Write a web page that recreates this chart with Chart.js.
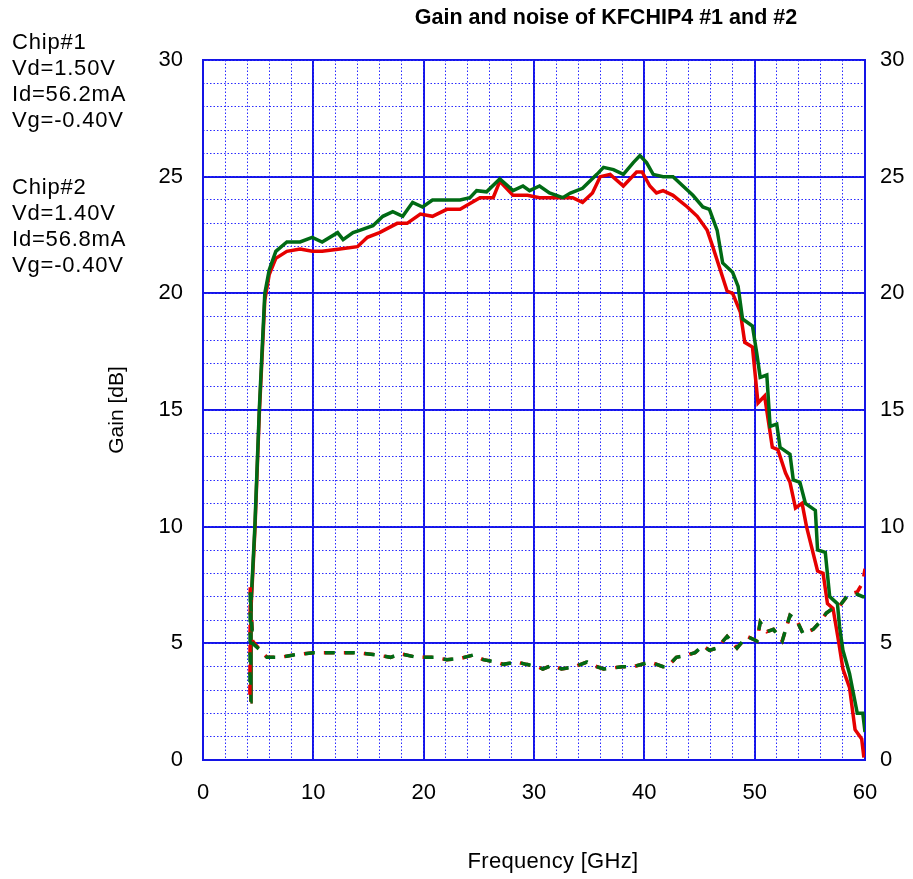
<!DOCTYPE html>
<html>
<head>
<meta charset="utf-8">
<script src="https://cdn.jsdelivr.net/npm/chart.js@4.4.1/dist/chart.umd.min.js"></script>
<style>
  html, body { margin: 0; padding: 0; background: #fff; }
  #wrap { position: relative; width: 913px; height: 879px; }
  canvas { position: absolute; left: 0; top: 0; }
  .txt { position: absolute; font-family: "Liberation Sans", Arial, sans-serif; color: #000; white-space: nowrap; }
  #title { font-weight: bold; font-size: 21.5px; left: 606px; top: 5px; transform: translateX(-50%); }
  #xtitle { font-size: 22px; left: 553px; top: 848px; transform: translateX(-50%); letter-spacing: 0.3px; }
  .note { left: 12px; font-size: 22px; line-height: 26px; letter-spacing: 0.8px; }
</style>
</head>
<body>
<div id="wrap">
  <canvas id="c" width="913" height="879"></canvas>
  <div id="title" class="txt">Gain and noise of KFCHIP4 #1 and #2</div>
  <div id="xtitle" class="txt">Frequency [GHz]</div>
  <div class="txt note" style="top:29px">Chip#1<br>Vd=1.50V<br>Id=56.2mA<br>Vg=-0.40V</div>
  <div class="txt note" style="top:174px">Chip#2<br>Vd=1.40V<br>Id=56.8mA<br>Vg=-0.40V</div>
</div>
<script>
// ---- Data ----
const xTicks = [0, 10, 20, 30, 40, 50, 60];
const yTicks = [0, 5, 10, 15, 20, 25, 30];

// Chip#1 gain (green)
const gain1Freq = [4.3,4.35,4.7,5.1,5.6,6.0,6.3,6.6,7.6,8.8,9.9,10.8,12.2,12.7,13.6,14.2,15.4,16.3,17.2,18.1,19.0,19.9,20.8,22.1,23.3,24.2,24.8,25.7,26.9,28.1,29.0,29.6,30.5,31.4,32.6,33.3,34.4,35.7,36.3,37.2,38.1,39.0,39.6,40.2,40.8,41.7,42.6,43.5,44.4,45.3,45.9,46.6,47.1,48.0,48.5,48.9,49.8,50.2,50.5,51.1,51.4,52.0,52.3,53.2,53.5,54.1,54.6,55.5,55.7,56.4,56.8,57.5,57.7,58.0,58.6,59.3,59.8,60.0];
const gain1 = [2.5,6.7,10,15,20,21,21.4,21.8,22.2,22.2,22.4,22.2,22.6,22.3,22.6,22.7,22.9,23.3,23.5,23.3,23.9,23.7,24.0,24.0,24.0,24.1,24.4,24.35,24.9,24.4,24.6,24.4,24.6,24.3,24.1,24.3,24.5,25.1,25.4,25.3,25.1,25.6,25.9,25.6,25.1,25.0,25.0,24.6,24.2,23.7,23.6,22.7,21.3,20.9,20.3,18.9,18.6,17.4,16.4,16.5,14.3,14.4,13.4,13.1,12.0,11.9,11.0,10.7,9.0,8.9,7.0,6.7,5.7,4.7,3.7,2.0,2.0,1.2];

// Chip#2 gain (red)
const gain2Freq = [4.3,4.35,4.7,5.1,5.6,6.0,6.6,7.6,8.8,9.9,10.8,12.4,14.0,14.9,16.0,17.6,18.5,19.7,20.8,22.1,23.3,25.1,26.3,26.9,28.1,29.4,30.5,32.4,33.5,34.4,35.3,36.0,36.9,38.1,39.3,39.8,40.5,41.1,41.7,42.6,43.9,44.8,45.7,46.2,47.5,48.0,48.7,49.1,49.8,50.3,50.9,51.6,52.1,52.8,53.2,53.7,54.3,54.7,55.7,56.2,56.6,57.1,57.6,58.0,58.6,59.1,59.7,59.9];
const gain2 = [2.5,6.5,9.8,14.8,19.7,20.8,21.5,21.8,21.9,21.8,21.8,21.9,22.0,22.4,22.6,23.0,23.0,23.4,23.3,23.6,23.6,24.1,24.1,24.8,24.2,24.2,24.1,24.1,24.1,23.9,24.3,25.0,25.1,24.6,25.2,25.2,24.6,24.3,24.4,24.2,23.7,23.3,22.7,22.0,20.1,20.0,19.2,17.9,17.7,15.3,15.6,13.4,13.3,12.3,11.9,10.8,11.0,10.0,8.1,8.0,6.7,6.5,5.1,3.9,3.1,1.3,0.9,0.1];

// Noise (dashed) – same frequency grid for both chips
const noiseFreq = [4.25,4.28,4.5,5.2,5.8,7.0,8.2,10.0,11.8,14.0,15.8,17.0,17.9,19.4,20.9,22.1,23.3,24.5,25.4,26.6,27.2,28.4,29.3,30.3,30.8,31.6,32.5,33.7,34.8,35.4,36.3,37.2,38.0,39.0,40.5,41.7,42.1,42.9,43.9,44.6,45.3,45.9,46.6,47.5,48.4,49.3,50.2,50.5,51.1,51.7,52.5,53.2,53.8,54.4,55.3,55.9,56.5,57.1,57.7,58.5,59.3,59.8,60.0];
const noise1 = [2.9,7.2,5.0,4.7,4.4,4.4,4.5,4.6,4.6,4.6,4.5,4.4,4.55,4.4,4.4,4.3,4.35,4.5,4.3,4.2,4.1,4.2,4.1,4.0,3.9,4.05,3.9,4.0,4.2,4.05,3.9,3.95,4.0,4.0,4.2,4.0,4.0,4.4,4.5,4.6,4.9,4.7,4.8,5.3,4.8,5.3,5.1,5.9,5.5,5.6,5.1,6.2,6.0,5.4,5.6,5.9,6.3,6.5,6.6,7.1,7.1,7.0,7.0];
const noise2 = [2.8,7.4,5.1,4.7,4.4,4.4,4.5,4.6,4.6,4.6,4.5,4.4,4.55,4.4,4.4,4.3,4.35,4.5,4.3,4.2,4.1,4.2,4.1,4.0,3.9,4.05,3.9,4.0,4.2,4.05,3.9,3.95,4.0,4.0,4.2,4.0,4.0,4.4,4.5,4.6,4.9,4.7,4.8,5.3,4.8,5.3,5.1,5.9,5.5,5.6,5.1,6.2,6.0,5.4,5.6,5.9,6.3,6.5,6.6,7.1,7.2,7.6,8.2];

const pts = (xs, ys) => xs.map((x, i) => ({ x: x, y: ys[i] }));

const GREEN = '#006a14';
const RED = '#e60000';
const BLUE = '#1414e6';
const FONT = { family: '"Liberation Sans", Arial, sans-serif', size: 22 };

const fixW = w => (s => { s.width = w; });
const fixH = h => (s => { s.height = h; });

// Chart.js paints dataset 0 last (on top)
new Chart(document.getElementById('c'), {
  type: 'line',
  data: {
    datasets: [
      { label: 'Chip#1 noise', data: pts(noiseFreq, noise1), borderColor: GREEN, borderWidth: 3.5, borderDash: [10, 10], borderDashOffset: 10 },
      { label: 'Chip#2 noise', data: pts(noiseFreq, noise2), borderColor: RED, borderWidth: 3.5, borderDash: [10, 10] },
      { label: 'Chip#1 gain', data: pts(gain1Freq, gain1), borderColor: GREEN, borderWidth: 3.5 },
      { label: 'Chip#2 gain', data: pts(gain2Freq, gain2), borderColor: RED, borderWidth: 3.5 }
    ]
  },
  options: {
    responsive: false,
    animation: false,
    devicePixelRatio: 1,
    elements: { point: { radius: 0 }, line: { tension: 0, borderCapStyle: 'butt', borderJoinStyle: 'miter' } },
    layout: { padding: { left: 105, right: 0, top: 60, bottom: 4 } },
    plugins: { legend: { display: false }, tooltip: { enabled: false }, title: { display: false } },
    scales: {
      x: {
        type: 'linear', position: 'bottom', min: 0, max: 60,
        afterBuildTicks: s => { s.ticks = xTicks.map(v => ({ value: v })); },
        ticks: { font: FONT, color: '#000', padding: 20, maxRotation: 0 },
        grid: { color: BLUE, lineWidth: 2, drawTicks: false },
        border: { color: BLUE, width: 2 },
        afterFit: fixH(115)
      },
      xMinor: {
        type: 'linear', position: 'bottom', min: 0, max: 60,
        ticks: { display: false, stepSize: 2 },
        grid: { color: '#2a2aff', lineWidth: 1, drawTicks: false },
        border: { display: false, dash: [1.5, 2] },
        afterFit: fixH(0)
      },
      y: {
        type: 'linear', position: 'left', min: 0, max: 30,
        afterBuildTicks: s => { s.ticks = yTicks.map(v => ({ value: v })); },
        ticks: { font: FONT, color: '#000', padding: 20 },
        grid: { color: BLUE, lineWidth: 2, drawTicks: false },
        border: { color: BLUE, width: 2 },
        title: { display: true, text: 'Gain [dB]', font: { family: FONT.family, size: 21 }, color: '#000', padding: 0 },
        afterFit: fixW(98)
      },
      yMinor: {
        type: 'linear', position: 'left', min: 0, max: 30,
        ticks: { display: false, stepSize: 1 },
        grid: { color: '#2a2aff', lineWidth: 1, drawTicks: false },
        border: { display: false, dash: [1.5, 2] },
        afterFit: fixW(0)
      },
      yRight: {
        type: 'linear', position: 'right', min: 0, max: 30,
        afterBuildTicks: s => { s.ticks = yTicks.map(v => ({ value: v })); },
        ticks: { font: FONT, color: '#000', padding: 15 },
        grid: { drawOnChartArea: false, drawTicks: false, color: BLUE },
        border: { color: BLUE, width: 2 },
        afterFit: fixW(48)
      }
    }
  }
});
</script>
</body>
</html>
